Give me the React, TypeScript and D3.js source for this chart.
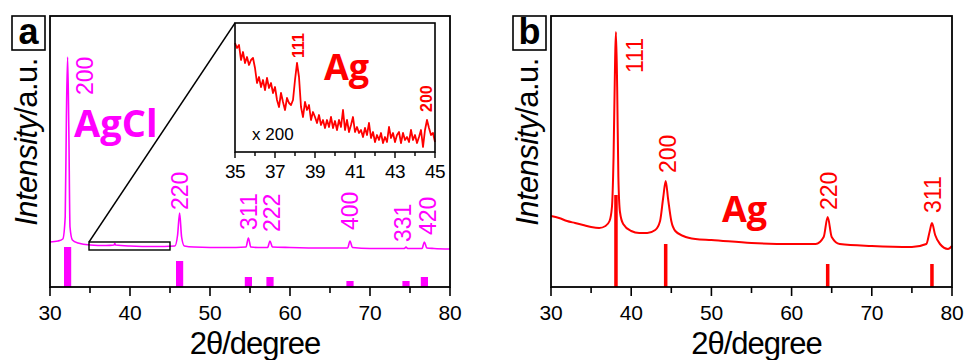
import { useEffect, useRef } from 'react';
import * as d3 from 'd3';

// ---- Panel a: AgCl pattern (2theta, intensity a.u.) ----
const agclTheta = [30, 31, 31.6, 31.9, 32.05, 32.2, 32.35, 32.5, 32.8, 33.5, 35, 37, 38, 38.1, 38.2, 40, 43, 45.6, 45.95, 46.2, 46.45, 46.8, 48, 52, 54.5, 54.8, 55.1, 56, 57.2, 57.5, 57.8, 60, 64, 67.2, 67.5, 67.8, 70, 74.3, 74.5, 74.7, 76.5, 76.8, 77.1, 78, 80];
const agclInt = [45, 46, 48, 70, 170, 230, 160, 60, 47, 44, 42, 41.5, 42, 43.5, 42, 41, 40.5, 41, 52, 74, 50, 41, 40, 39.5, 40, 49, 40, 39.5, 39.5, 46, 40, 39.5, 39, 39, 46, 39.5, 38.5, 38.5, 40, 38.5, 38.5, 45, 39, 38.5, 38];
const agclRefTheta = [32.2, 46.2, 54.8, 57.5, 67.5, 74.5, 76.8];
const agclRefInt = [40, 26, 10, 10, 6, 6, 10];
const agclHkl = ['200', '220', '311', '222', '400', '331', '420'];

// ---- Inset (x200), 35-45 deg in 0.1 deg steps ----
const insetStart = 35;
const insetStep = 0.1;
const insetInt = [
  109, 104, 107, 92, 100, 89, 95, 87, 92, 94,
  84, 69, 75, 65, 72, 62, 74, 64, 69, 59,
  65, 52, 45, 59, 50, 42, 54, 49, 47, 52,
  72, 89, 75, 45, 35, 50, 42, 47, 32, 40,
  35, 29, 37, 27, 32, 24, 32, 25, 35, 24,
  31, 22, 32, 25, 42, 22, 32, 20, 27, 35,
  20, 25, 19, 22, 15, 24, 17, 29, 14, 20,
  10, 17, 12, 19, 9, 15, 10, 25, 14, 19,
  10, 17, 20, 9, 19, 12, 15, 10, 22, 12,
  17, 9, 15, 22, 5, 22, 32, 24, 17, 19,
  10,
];
const insetTicks = [35, 37, 39, 41, 43, 45];
const insetMinor = [36, 38, 40, 42, 44];

// ---- Panel b: Ag pattern ----
const agTheta = [30, 31, 32, 33, 34, 35, 36, 36.8, 37.3, 37.6, 37.8, 38.0, 38.1, 38.25, 38.4, 38.6, 39, 40, 41, 42, 43, 43.6, 44.0, 44.3, 44.6, 45, 45.5, 46.5, 48, 50, 55, 60, 63, 64, 64.5, 65, 66, 70, 75, 76.8, 77.2, 77.5, 77.9, 78.5, 79.5, 80];
const agInt = [71, 69, 66, 64, 62, 60, 59, 61, 66, 80, 130, 230, 255, 200, 110, 75, 63, 56, 54, 54, 57, 66, 90, 106, 88, 66, 56, 51, 48, 47, 44, 43, 43, 50, 70, 50, 43, 41, 40, 43, 55, 64, 52, 43, 38, 41];
const agRefTheta = [38.1, 44.3, 64.5, 77.5];
const agRefInt = [92, 43, 23, 23];
const agHkl = ['111', '200', '220', '311'];

const xTicks = [30, 40, 50, 60, 70, 80];
const xMinor = [35, 45, 55, 65, 75];

// label placement (bottom of rotated label, a.u.) and x nudges in px
const agclLabelLevel = [192, 77, 57, 55, 57, 45, 52];
const agclLabelDx = [17, 0, 0, 2, 0, -3, 3];
const agLabelLevel = [214, 114, 77, 74];
const agLabelDx = [19, 2, 1, 1];

const MAGENTA = '#ff00ff';
const RED = '#ff0000';
const FONT = '"Liberation Sans", Arial, sans-serif';
const BOLD_FONT = '"Open Sans", "Liberation Sans", sans-serif';

export default function App() {
  const ref = useRef<SVGSVGElement>(null);

  useEffect(() => {
    const svg = d3.select(ref.current);
    svg.selectAll('*').remove();

    const top = 16;
    const bottom = 287;

    const drawPanel = (opts: any) => {
      const { left, right, letter, theta, inten, refTheta, refInt, hkl, level, dx, color, barHalf, lineW } = opts;
      const x = d3.scaleLinear().domain([30, 80]).range([left, right]);
      const y = d3.scaleLinear().domain([0, bottom - top]).range([bottom, top]);
      const g = svg.append('g');

      // reference sticks
      g.selectAll('rect.ref')
        .data(refTheta)
        .enter()
        .append('rect')
        .attr('x', (d: number) => x(d - barHalf))
        .attr('width', (d: number) => x(d + barHalf) - x(d - barHalf))
        .attr('y', (d: number, i: number) => y(refInt[i]))
        .attr('height', (d: number, i: number) => y(0) - y(refInt[i]))
        .attr('fill', color);

      // pattern
      const pts = theta.map((t: number, i: number) => [t, inten[i]]);
      g.append('path')
        .datum(pts)
        .attr('fill', 'none')
        .attr('stroke', color)
        .attr('stroke-width', lineW)
        .attr('stroke-linejoin', 'round')
        .attr('d', d3.line<any>().x(d => x(d[0])).y(d => y(d[1])).curve(d3.curveMonotoneX));

      // hkl labels
      hkl.forEach((h: string, i: number) => {
        g.append('text')
          .attr('transform', `translate(${x(refTheta[i]) + dx[i]},${y(level[i])}) rotate(-90)`)
          .attr('dy', '0.36em')
          .attr('text-anchor', 'start')
          .style('font-family', FONT)
          .style('font-size', '23px')
          .style('fill', color)
          .text(h);
      });

      // frame
      g.append('rect')
        .attr('x', left).attr('y', top)
        .attr('width', right - left).attr('height', bottom - top)
        .attr('fill', 'none').attr('stroke', '#000').attr('stroke-width', 1.8);

      // x axis ticks
      g.selectAll('line.maj').data(xTicks).enter().append('line')
        .attr('x1', (d: number) => x(d)).attr('x2', (d: number) => x(d))
        .attr('y1', bottom).attr('y2', bottom + 9)
        .attr('stroke', '#000').attr('stroke-width', 1.6);
      g.selectAll('line.min').data(xMinor).enter().append('line')
        .attr('x1', (d: number) => x(d)).attr('x2', (d: number) => x(d))
        .attr('y1', bottom).attr('y2', bottom + 6)
        .attr('stroke', '#000').attr('stroke-width', 1.6);
      g.selectAll('text.tick').data(xTicks).enter().append('text')
        .attr('x', (d: number) => x(d)).attr('y', 320)
        .attr('text-anchor', 'middle')
        .style('font-family', FONT).style('font-size', '21px').style('letter-spacing', '-0.3px')
        .text((d: number) => d);

      // axis titles
      g.append('text')
        .attr('x', (left + right) / 2 + 5).attr('y', 354)
        .attr('text-anchor', 'middle')
        .style('font-family', FONT).style('font-size', '31px').style('letter-spacing', '-1px')
        .text('2θ/degree');

      const yl = g.append('text')
        .attr('transform', `translate(${left - 13},142) rotate(-90)`)
        .attr('text-anchor', 'middle')
        .style('font-family', FONT).style('font-size', '31px').style('letter-spacing', '-0.6px');
      yl.append('tspan').style('font-style', 'italic').text('Intensity');
      yl.append('tspan').text('/a.u.');

      // panel letter
      g.append('rect')
        .attr('x', left - 38).attr('y', top).attr('width', 33).attr('height', 34)
        .attr('fill', '#fff').attr('stroke', '#000').attr('stroke-width', 1.6);
      g.append('text')
        .attr('x', left - 21.5).attr('y', top + 28)
        .attr('text-anchor', 'middle')
        .style('font-family', FONT).style('font-weight', 'bold').style('font-size', '36px')
        .text(letter);

      return { x, y, g };
    };

    // ---------- panel a ----------
    const pa = drawPanel({
      left: 50, right: 450, letter: 'a',
      theta: agclTheta, inten: agclInt,
      refTheta: agclRefTheta, refInt: agclRefInt, hkl: agclHkl,
      level: agclLabelLevel, dx: agclLabelDx,
      color: MAGENTA, barHalf: 0.45, lineW: 1.6,
    });

    pa.g.append('text')
      .attr('x', 74).attr('y', 137)
      .style('font-family', BOLD_FONT).style('font-weight', 'bold').style('font-size', '38px')
      .style('fill', MAGENTA)
      .text('AgCl');

    // zoom box on 35-45 deg
    const boxTop = pa.y(45);
    const boxBot = pa.y(37);
    pa.g.append('rect')
      .attr('x', pa.x(35) - 1).attr('y', boxTop)
      .attr('width', pa.x(45) - pa.x(35) + 1).attr('height', boxBot - boxTop)
      .attr('fill', 'none').attr('stroke', '#000').attr('stroke-width', 1.4);

    // inset
    const inL = 235, inR = 435, inT = 23, inB = 152;
    pa.g.append('line')
      .attr('x1', pa.x(35) - 1).attr('y1', boxTop).attr('x2', inL).attr('y2', inT)
      .attr('stroke', '#000').attr('stroke-width', 1.4);

    const ix = d3.scaleLinear().domain([35, 45]).range([inL, inR]);
    const iy = d3.scaleLinear().domain([0, inB - inT]).range([inB, inT]);
    const ig = pa.g.append('g');
    ig.append('rect').attr('x', inL).attr('y', inT).attr('width', inR - inL).attr('height', inB - inT)
      .attr('fill', '#fff');
    const insetPts = insetInt.map((v, i) => [insetStart + i * insetStep, v]);
    ig.append('path')
      .datum(insetPts)
      .attr('fill', 'none').attr('stroke', RED).attr('stroke-width', 1.8).attr('stroke-linejoin', 'round')
      .attr('d', d3.line<any>().x(d => ix(d[0])).y(d => iy(d[1])));
    ig.append('rect').attr('x', inL).attr('y', inT).attr('width', inR - inL).attr('height', inB - inT)
      .attr('fill', 'none').attr('stroke', '#000').attr('stroke-width', 1.6);
    ig.selectAll('line.it').data(insetTicks).enter().append('line')
      .attr('x1', d => ix(d)).attr('x2', d => ix(d)).attr('y1', inB).attr('y2', inB + 6)
      .attr('stroke', '#000').attr('stroke-width', 1.4);
    ig.selectAll('line.im').data(insetMinor).enter().append('line')
      .attr('x1', d => ix(d)).attr('x2', d => ix(d)).attr('y1', inB).attr('y2', inB + 4)
      .attr('stroke', '#000').attr('stroke-width', 1.4);
    ig.selectAll('text.il').data(insetTicks).enter().append('text')
      .attr('x', d => ix(d)).attr('y', 178).attr('text-anchor', 'middle')
      .style('font-family', FONT).style('font-size', '19px').style('letter-spacing', '-0.5px')
      .text(d => d);
    ig.append('text')
      .attr('transform', `translate(${ix(38.1) + 1},${iy(94)}) rotate(-90)`)
      .attr('dy', '0.36em')
      .style('font-family', FONT).style('font-weight', 'bold').style('font-size', '16px').style('fill', RED)
      .text('111');
    ig.append('text')
      .attr('transform', `translate(${ix(44.6) - 1},${iy(40)}) rotate(-90)`)
      .attr('dy', '0.36em')
      .style('font-family', FONT).style('font-weight', 'bold').style('font-size', '16px').style('fill', RED)
      .text('200');
    ig.append('text')
      .attr('x', 324).attr('y', 80)
      .style('font-family', BOLD_FONT).style('font-weight', 'bold').style('font-size', '36px').style('fill', RED)
      .text('Ag');
    ig.append('text')
      .attr('x', 252).attr('y', 140)
      .style('font-family', FONT).style('font-size', '17px')
      .text('x 200');

    // ---------- panel b ----------
    const pb = drawPanel({
      left: 551, right: 952, letter: 'b',
      theta: agTheta, inten: agInt,
      refTheta: agRefTheta, refInt: agRefInt, hkl: agHkl,
      level: agLabelLevel, dx: agLabelDx,
      color: RED, barHalf: 0.22, lineW: 2,
    });
    pb.g.append('text')
      .attr('x', 722).attr('y', 222)
      .style('font-family', BOLD_FONT).style('font-weight', 'bold').style('font-size', '36px')
      .style('fill', RED)
      .text('Ag');
  }, []);

  return (
    <svg
      ref={ref}
      width={967}
      height={360}
      style={{ position: 'absolute', left: 0, top: 0, background: '#fff', display: 'block' }}
    />
  );
}
